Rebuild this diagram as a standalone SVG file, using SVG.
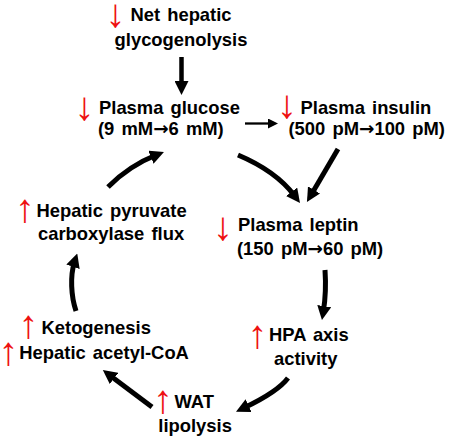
<svg xmlns="http://www.w3.org/2000/svg" width="450" height="439" viewBox="0 0 450 439">
<style>
.t{font-family:"Liberation Sans",Arial,sans-serif;font-weight:bold;font-size:18.4px;fill:#000;word-spacing:2px}
.a{font-family:"DejaVu Sans",sans-serif;font-weight:bold}
.r{font-family:"Liberation Sans",Arial,sans-serif;font-size:40px;fill:#ee1111;text-anchor:middle}
.c{fill:none;stroke:#000;stroke-width:5}
</style>
<defs>
<marker id="ah" viewBox="0 0 14 14" markerUnits="userSpaceOnUse" markerWidth="14" markerHeight="14" refX="5" refY="7" orient="auto"><path d="M0,0 L14,7 L0,14 z" fill="#000"/></marker>
<marker id="as" viewBox="0 0 10 10" markerUnits="userSpaceOnUse" markerWidth="10" markerHeight="10" refX="4" refY="5" orient="auto"><path d="M0,0 L10,5 L0,10 z" fill="#000"/></marker>
</defs>
<rect width="450" height="439" fill="#fff"/>
<g id="connectors">
<path class="c" d="M181.5,57 L181.5,86" style="stroke-width:4.5" marker-end="url(#ah)"/>
<path class="c" d="M245,123.5 L272,123.5" style="stroke-width:2.3" marker-end="url(#as)"/>
<path class="c" d="M108,187 Q129.2,165.8 155.6,155.3" marker-end="url(#ah)"/>
<path class="c" d="M238,155 Q276.1,171.1 294.6,195.8" marker-end="url(#ah)"/>
<path class="c" d="M338,149 L311.5,194.2" marker-end="url(#ah)"/>
<path class="c" d="M325,270 Q326.5,292 323.4,311.1" marker-end="url(#ah)"/>
<path class="c" d="M76,311 C71,296 70,276 74.5,262" marker-end="url(#ah)"/>
<path class="c" d="M288,378 Q277.7,391.8 244.1,407.8" marker-end="url(#ah)"/>
<path class="c" d="M152,407 Q132,392 110,375.5" marker-end="url(#ah)"/>
</g>
<g id="glycogenolysis">
<text class="r" x="115.5" y="27">↓</text>
<text class="t" x="181" y="21" text-anchor="middle">Net hepatic</text>
<text class="t" x="181" y="45.5" text-anchor="middle">glycogenolysis</text>
</g>
<g id="glucose">
<text class="r" x="84.5" y="120">↓</text>
<text class="t" x="99" y="114">Plasma glucose</text>
<text class="t" x="98" y="135">(9 mM<tspan class="a">→</tspan>6 mM)</text>
</g>
<g id="insulin">
<text class="r" x="287" y="118">↓</text>
<text class="t" x="300.5" y="114">Plasma insulin</text>
<text class="t" x="288.5" y="135">(500 pM<tspan class="a">→</tspan>100 pM)</text>
</g>
<g id="pyruvate">
<text class="r" x="25" y="222">↑</text>
<text class="t" x="36.5" y="216.5">Hepatic pyruvate</text>
<text class="t" x="38" y="239.5">carboxylase flux</text>
</g>
<g id="leptin">
<text class="r" x="223" y="240">↓</text>
<text class="t" x="238" y="231">Plasma leptin</text>
<text class="t" x="237" y="255">(150 pM<tspan class="a">→</tspan>60 pM)</text>
</g>
<g id="hpa">
<text class="r" x="257.5" y="348">↑</text>
<text class="t" x="269" y="340.5">HPA axis</text>
<text class="t" x="274" y="365">activity</text>
</g>
<g id="ketogenesis">
<text class="r" x="28.5" y="338">↑</text>
<text class="t" x="41.5" y="334">Ketogenesis</text>
<text class="r" x="8.5" y="365">↑</text>
<text class="t" x="19.3" y="358.5">Hepatic acetyl-CoA</text>
</g>
<g id="wat">
<text class="r" x="163" y="413">↑</text>
<text class="t" x="174.5" y="408">WAT</text>
<text class="t" x="158.3" y="431.5">lipolysis</text>
</g>
</svg>
